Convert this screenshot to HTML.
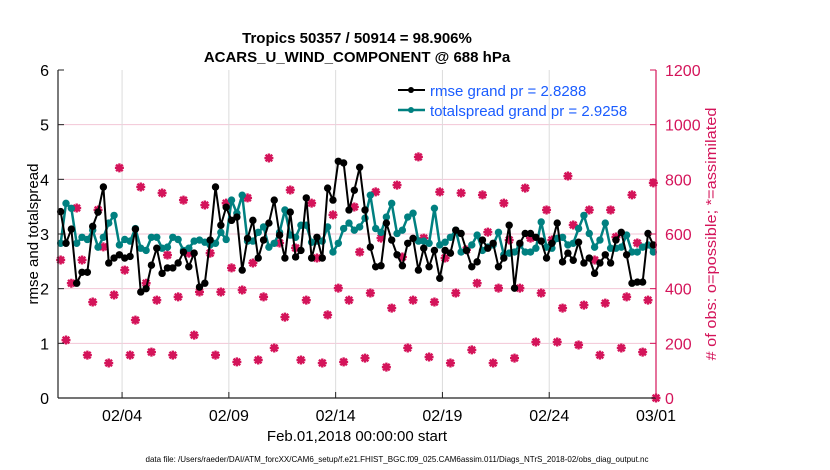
<!DOCTYPE html>
<html><head><meta charset="utf-8"><style>
body{margin:0;background:#fff;}
svg{display:block;font-family:"Liberation Sans",sans-serif;}
</style></head><body>
<svg id="chart" width="830" height="470" viewBox="0 0 830 470" xmlns="http://www.w3.org/2000/svg">
<g id="grid"></g>
<g id="obs"></g>
<g id="spread"></g>
<g id="rmse"></g>
<g id="axes"></g>
<text x="357" y="43" text-anchor="middle" font-size="15" font-weight="bold">Tropics 50357 / 50914 = 98.906%</text>
<text x="357" y="62" text-anchor="middle" font-size="15" font-weight="bold">ACARS_U_WIND_COMPONENT @ 688 hPa</text>
<text transform="translate(38,234) rotate(-90)" text-anchor="middle" font-size="15">rmse and totalspread</text>
<text transform="translate(716,234) rotate(-90)" text-anchor="middle" font-size="15" fill="#d4145a" textLength="253" lengthAdjust="spacingAndGlyphs"># of obs: o=possible; *=assimilated</text>
<text x="357" y="441" text-anchor="middle" font-size="15">Feb.01,2018 00:00:00 start</text>
<text x="397" y="462" text-anchor="middle" font-size="8.3" textLength="503" lengthAdjust="spacingAndGlyphs">data file: /Users/raeder/DAI/ATM_forcXX/CAM6_setup/f.e21.FHIST_BGC.f09_025.CAM6assim.011/Diags_NTrS_2018-02/obs_diag_output.nc</text>
<g>
<line x1="398" y1="90" x2="425" y2="90" stroke="#000" stroke-width="2"/><circle cx="411" cy="90" r="3" fill="#000"/>
<text x="430" y="96" font-size="15" fill="#1a5cff">rmse grand pr = 2.8288</text>
<line x1="398" y1="110" x2="425" y2="110" stroke="#008080" stroke-width="2.5"/><circle cx="411" cy="110" r="3" fill="#008080"/>
<text x="430" y="116" font-size="15" fill="#1a5cff">totalspread grand pr = 2.9258</text>
</g>
</svg>
<script>
const rmse=[3.41,2.83,3.09,2.10,2.30,2.30,3.14,3.40,3.86,2.47,2.56,2.62,2.56,2.59,3.09,1.94,2.00,2.43,2.74,2.28,2.38,2.38,2.47,2.67,2.40,2.65,2.03,2.10,2.89,3.86,3.16,3.49,3.25,3.31,2.34,2.92,3.25,2.56,2.89,3.20,
3.62,2.98,2.56,3.40,2.58,2.70,3.66,2.56,2.94,2.56,3.84,3.62,4.33,4.30,3.44,3.80,4.22,3.44,2.76,2.40,2.42,3.20,2.89,2.62,2.42,2.83,2.92,2.34,2.74,2.40,2.70,2.19,2.70,2.65,3.07,3.01,2.70,
2.40,2.49,2.89,2.74,2.83,2.40,2.56,3.16,2.01,2.83,3.01,3.01,2.94,2.87,2.56,2.83,3.20,2.49,2.65,2.52,2.85,2.47,2.56,2.28,2.47,2.62,2.47,2.89,3.03,2.62,2.10,2.12,2.12,3.01,2.80];
const spread=[2.83,3.56,3.47,2.83,2.94,2.90,3.07,2.76,2.94,3.20,3.34,2.80,2.90,2.87,3.10,2.74,2.70,2.94,2.94,2.74,2.76,2.94,2.90,2.70,2.74,2.87,2.89,2.85,2.80,2.83,3.03,2.90,3.62,3.38,3.71,2.87,2.87,3.03,3.13,2.76,
2.83,3.03,3.44,2.98,2.94,3.16,3.16,2.85,2.87,2.87,3.13,2.67,2.83,3.10,3.20,3.07,3.13,3.29,3.71,3.10,3.03,3.31,3.56,3.01,3.07,3.31,3.38,2.87,2.87,2.83,3.47,2.80,2.85,2.94,3.07,2.67,2.70,
2.80,2.98,2.70,2.76,2.80,3.03,2.62,2.65,2.67,2.80,2.67,2.67,2.74,3.22,2.76,2.74,2.92,2.94,2.80,2.83,3.10,3.34,3.01,2.76,2.89,3.20,2.74,2.74,2.76,2.98,2.67,2.67,2.76,2.80,2.67];
const obsCount=[505,212,420,695,505,157,351,688,553,128,377,842,468,157,285,772,420,168,358,750,523,157,370,724,530,230,388,706,530,157,388,713,476,132,395,732,494,139,370,878,
183,567,296,761,549,139,358,713,512,128,304,670,402,132,358,699,534,146,384,754,585,113,329,779,516,183,358,882,585,150,351,754,512,128,384,750,542,
176,420,743,607,128,402,713,578,146,402,768,585,205,384,688,578,205,329,812,633,194,340,688,505,157,347,688,589,183,370,743,567,168,358,787,0];
const leftTicks=[0,1,2,3,4,5,6];
const rightTicks=[0,200,400,600,800,1000,1200];
const xTickDays=[3,8,13,18,23,28];
const xTickLabels=['02/04','02/09','02/14','02/19','02/24','03/01'];

const NS='http://www.w3.org/2000/svg';
const X0=58,X1=656,Y0=398,Y1=70,DAYS=28;
const xDay=d=>X0+(X1-X0)*d/DAYS;
const xIdx=i=>xDay((i+0.5)*0.25);
const yL=v=>Y0-(Y0-Y1)*v/6;
const yR=v=>Y0-(Y0-Y1)*v/1200;
function mk(tag,attrs,parent){const e=document.createElementNS(NS,tag);for(const k in attrs)e.setAttribute(k,attrs[k]);parent.appendChild(e);return e;}
const grid=document.getElementById('grid'),axes=document.getElementById('axes');
leftTicks.forEach(t=>{if(t>0&&t<6){const l=mk('line',{x1:X0,x2:X1,y1:yL(t),y2:yL(t),stroke:'#f2c6d6','stroke-width':1},grid);

}
const tx=mk('text',{x:X0-9,y:yL(t)+6,'text-anchor':'end','font-size':16},axes);tx.textContent=t;


mk('line',{x1:X0,x2:X0+6,y1:yL(t),y2:yL(t),stroke:'#222'},axes);});
rightTicks.forEach(t=>{const tx=mk('text',{x:X1+9,y:yR(t)+6,'font-size':16,fill:'#d4145a'},axes);tx.textContent=t;


mk('line',{x1:X1-6,x2:X1,y1:yR(t),y2:yR(t),stroke:'#d4145a'},axes);});
xTickDays.forEach((d,i)=>{const x=xDay(d);
if(d<DAYS){const g=mk('line',{x1:x,x2:x,y1:Y1,y2:Y0,stroke:'#dcdcdc'},grid);

}
mk('line',{x1:x,x2:x,y1:Y0,y2:Y0-6,stroke:'#222'},axes);
const tx=mk('text',{x:x,y:Y0+23,'text-anchor':'middle','font-size':16},axes);tx.textContent=xTickLabels[i];

});
mk('line',{x1:X0,x2:X1,y1:Y0,y2:Y0,stroke:'#222','stroke-width':1.2},axes);
mk('line',{x1:X0,x2:X0,y1:Y1,y2:Y0,stroke:'#222','stroke-width':1.2},axes);
mk('line',{x1:X1,x2:X1,y1:Y1,y2:Y0,stroke:'#d4145a','stroke-width':1.2},axes);
// obs
const og=document.getElementById('obs');
obsCount.forEach((c,i)=>{const x=i<obsCount.length-1?xIdx(i):xDay(DAYS),y=yR(c);
const p=mk('path',{d:`M${x-4.5},${y}H${x+4.5}M${x},${y-4.5}V${y+4.5}M${x-3.3},${y-3.3}L${x+3.3},${y+3.3}M${x-3.3},${y+3.3}L${x+3.3},${y-3.3}`,stroke:'#d4145a','stroke-width':2.4},og);


const cc=mk('circle',{cx:x,cy:y,r:3,fill:'#d4145a'},og);

});
function series(arr,g,color,w){
const pl=mk('polyline',{points:arr.map((v,i)=>xIdx(i)+','+yL(v)).join(' '),fill:'none',stroke:color,'stroke-width':w,'stroke-linejoin':'round'},g);


arr.forEach((v,i)=>{const c=mk('circle',{cx:xIdx(i),cy:yL(v),r:3.7,fill:color},g);

});}
series(spread,document.getElementById('spread'),'#008080',2.5);
series(rmse,document.getElementById('rmse'),'#000',2);
</script>
</body></html>
